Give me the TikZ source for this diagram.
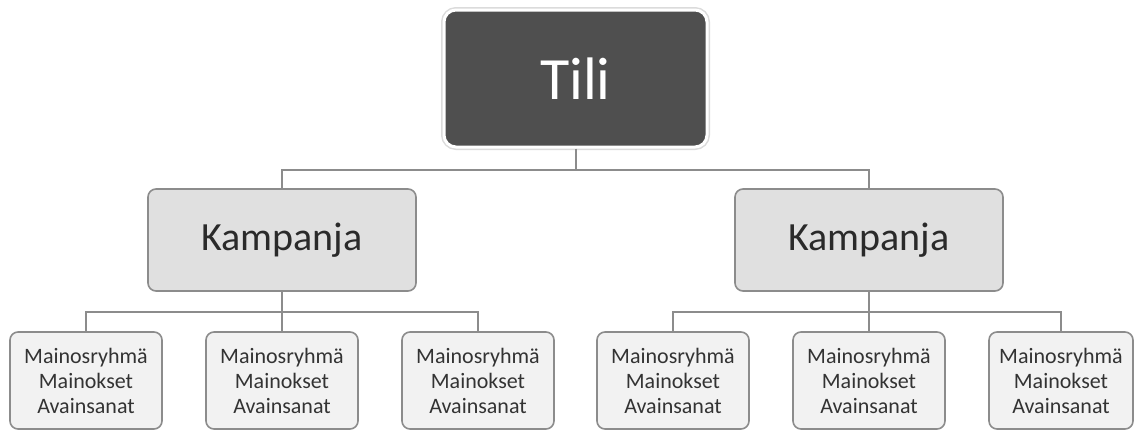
\documentclass[tikz,border=0pt]{standalone}
\usepackage{fontspec}
\setmainfont{Carlito}
\definecolor{topfill}{HTML}{4F4F4F}
\definecolor{campfill}{HTML}{E0E0E0}
\definecolor{leaffill}{HTML}{F2F2F2}
\definecolor{edgecol}{HTML}{8C8C8C}
\definecolor{txtcol}{HTML}{2A2A2A}
\definecolor{leaftxt}{HTML}{333333}
\tikzset{
  topbox/.style={rectangle, rounded corners=12pt, fill=topfill,
    preaction={draw=black!14, line width=6pt},
    draw=white, line width=3pt, minimum width=263pt, minimum height=137pt,
    text=white, font=\fontsize{60}{60}\selectfont, inner sep=0pt},
  campbox/.style={rectangle, rounded corners=8pt, fill=campfill, draw=edgecol,
    line width=1.6pt, minimum width=268pt, minimum height=102pt, inner sep=0pt,
    text=txtcol, font=\fontsize{40}{40}\selectfont},
  leafbox/.style={rectangle, rounded corners=8pt, fill=leaffill, draw=edgecol,
    line width=1.6pt, minimum width=152pt, minimum height=97pt, inner sep=0pt,
    text=leaftxt, align=center, font=\fontsize{22}{25}\selectfont},
  conn/.style={draw=edgecol, line width=2pt}
}
\begin{document}
\begin{tikzpicture}[x=1pt,y=-1pt]
\useasboundingbox (0,0) rectangle (1134,431);
% nodes
\node[topbox] (tili) at (575.5,78.5) {Tili};
\node[campbox] (c1) at (282,240) {Kampanja};
\node[campbox] (c2) at (869,240) {Kampanja};
\node[leafbox] (l1) at (86,380.5) {Mainosryhmä\\Mainokset\\Avainsanat};
\node[leafbox] (l2) at (282,380.5) {Mainosryhmä\\Mainokset\\Avainsanat};
\node[leafbox] (l3) at (478,380.5) {Mainosryhmä\\Mainokset\\Avainsanat};
\node[leafbox] (l4) at (673,380.5) {Mainosryhmä\\Mainokset\\Avainsanat};
\node[leafbox] (l5) at (869,380.5) {Mainosryhmä\\Mainokset\\Avainsanat};
\node[leafbox, minimum width=144pt] (l6) at (1061,380.5) {Mainosryhmä\\Mainokset\\Avainsanat};
% junctions
\coordinate (h0) at (575.5,170);
\coordinate (h1) at (282,312);
\coordinate (h2) at (869,312);
% connectors
\draw[conn] (tili.south) -- (h0) -| (c1.north);
\draw[conn] (h0) -| (c2.north);
\draw[conn] (c1.south) -- (h1) -| (l1.north);
\draw[conn] (h1) -- (l2.north);
\draw[conn] (h1) -| (l3.north);
\draw[conn] (c2.south) -- (h2) -| (l4.north);
\draw[conn] (h2) -- (l5.north);
\draw[conn] (h2) -| (l6.north);
\end{tikzpicture}
\end{document}
